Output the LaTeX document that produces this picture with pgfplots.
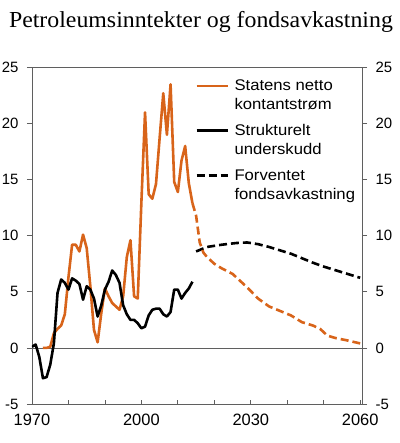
\documentclass[border=0pt]{standalone}
\usepackage{fontspec}
\setmainfont{Liberation Sans}
\newfontfamily\titlefont{Liberation Serif}[FakeStretch=1.04]
\newfontfamily\legfont{Liberation Sans}[FakeStretch=1.08]
\usepackage{pgfplots}
\pgfplotsset{compat=1.18}
\definecolor{oilorange}{RGB}{216,100,26}
\definecolor{framegray}{RGB}{95,95,95}

\pgfplotstableread{
year val
1973 0
1974 0
1975 0.1
1976 1.3
1977 1.7
1978 2.0
1979 3.0
1980 6.3
1981 9.2
1982 9.2
1983 8.6
1984 10.1
1985 8.9
1986 5.5
1987 1.6
1988 0.5
1989 3.1
1990 5.3
1991 4.6
1992 4.0
1993 3.7
1994 3.4
1995 4.6
1996 8.1
1997 9.6
1998 4.6
1999 4.4
2000 13.0
2001 21.0
2002 13.7
2003 13.3
2004 14.6
2005 18.7
2006 22.7
2007 19.0
2008 23.5
2009 14.8
2010 13.9
2011 16.7
2012 18.0
2013 14.7
2014 12.9
}\netto

\pgfplotstableread{
year val
2014 12.9
2015 11.8
2016 9.4
2017 8.5
2018 8.1
2020 7.5
2022 7.1
2025 6.6
2027 6.0
2029 5.4
2032 4.4
2035 3.7
2038 3.3
2041 2.9
2044 2.3
2047 2.0
2049 1.7
2051 1.1
2053 0.9
2056 0.7
2060 0.4
}\nettoproj

\pgfplotstableread{
year val
1970 0.1
1971 0.3
1972 -0.8
1973 -2.7
1974 -2.6
1975 -1.5
1976 0.4
1977 4.9
1978 6.1
1979 5.8
1980 5.2
1981 6.2
1982 6.0
1983 5.7
1984 4.3
1985 5.5
1986 5.2
1987 4.4
1988 2.8
1989 3.8
1990 5.2
1991 5.9
1992 6.9
1993 6.5
1994 5.8
1995 3.8
1996 3.0
1997 2.5
1998 2.5
1999 2.2
2000 1.75
2001 1.9
2002 2.9
2003 3.4
2004 3.5
2005 3.5
2006 3.0
2007 2.8
2008 3.2
2009 5.2
2010 5.2
2011 4.4
2012 4.9
2013 5.3
2014 5.9
}\underskudd

\pgfplotstableread{
year val
2015 8.6
2018 9.0
2022 9.2
2026 9.35
2029 9.4
2032 9.25
2035 9.0
2038 8.7
2041 8.4
2044 8.0
2047 7.6
2050 7.25
2053 6.95
2056 6.65
2060 6.25
}\avkastning

\pgfplotsset{
  base/.style={
    width=330bp, height=336.5bp, scale only axis,
    at={(0,0)}, anchor=south west,
    xmin=1970, xmax=2060.5, ymin=-5, ymax=25,
    axis line style={framegray, line width=0.8bp},
    tick style={framegray, line width=0.8bp},
    /pgf/number format/assume math mode=true,
    /pgf/number format/1000 sep={},
  },
  ylab/.style={
    xtick=\empty,
    ytick={-5,0,...,25},
    tick align=outside,
    major tick length=5bp,
    axis line style={draw=none},
    yticklabel style={font=\fontsize{15}{16}\selectfont},
  },
}

\begin{document}
\begin{tikzpicture}
\useasboundingbox (-32bp,-39bp) rectangle (368bp,404bp);

\begin{axis}[base,
  xtick={1970,2000,2030,2060},
  minor xtick={1980,1990,2010,2020,2040,2050},
  xtick pos=left,
  ytick=\empty,
  tick align=inside,
  major tick length=4bp, minor tick length=4bp,
  xticklabel style={font=\fontsize{16.5}{18}\selectfont, yshift=-7bp},
  title={Petroleumsinntekter og fondsavkastning},
  title style={font=\titlefont\fontsize{23}{26}\selectfont, anchor=base,
    at={(axis description cs:0.512,1)}, yshift=34.5bp, inner sep=0pt},
  legend style={draw=none, fill=none, inner sep=0pt,
    at={(axis description cs:0.494,0.97)}, anchor=north west,
    font=\legfont\fontsize{15.5}{19}\selectfont,
    cells={anchor=west, align=left}, row sep=9.5bp},
  legend image code/.code={
    \path[draw=none, fill=none] (0bp,-10.7bp) rectangle (36bp,10.7bp);
    \draw[#1] (0bp,9.5bp) -- (31bp,9.5bp);},
  every axis plot/.append style={line width=2.6bp, line join=round},
]
\addplot[framegray, line width=0.8bp, forget plot] coordinates {(1970,0) (2060.5,0)};
\addplot[oilorange] table[x=year, y=val] {\netto};
\addlegendentry{Statens netto\\kontantstrøm}
\addplot[black] table[x=year, y=val] {\underskudd};
\addlegendentry{Strukturelt\\underskudd}
\addplot[black, dash pattern=on 8bp off 4bp] table[x=year, y=val] {\avkastning};
\addlegendentry{Forventet\\fondsavkastning}
\addplot[oilorange, dash pattern=on 8bp off 4bp, forget plot] table[x=year, y=val] {\nettoproj};
\end{axis}

\begin{axis}[base, ylab, ytick pos=left,
  yticklabel style={xshift=-5bp}]
\end{axis}

\begin{axis}[base, ylab, ytick pos=right, yticklabel pos=right,
  yticklabel style={xshift=5bp}]
\end{axis}
\end{tikzpicture}
\end{document}
